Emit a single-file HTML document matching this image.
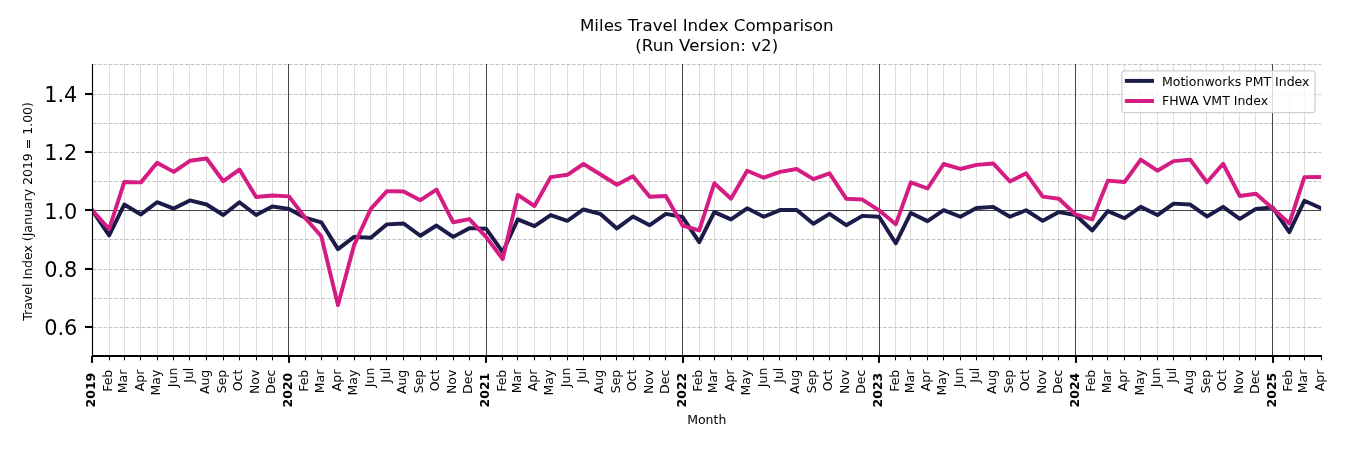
<!DOCTYPE html>
<html lang="en"><head><meta charset="utf-8"><title>Miles Travel Index Comparison</title>
<style>html,body{margin:0;padding:0;background:#fff;overflow:hidden}svg{display:block;will-change:transform}text{font-family:"DejaVu Sans","Liberation Sans",sans-serif;fill:#000}</style></head><body>
<svg width="1350" height="450" viewBox="0 0 1350 450">
<rect width="1350" height="450" fill="#fff"/>
<g stroke="#dedede" stroke-width="1" fill="none">
<line x1="109.50" y1="64.00" x2="109.50" y2="356.00"/>
<line x1="124.50" y1="64.00" x2="124.50" y2="356.00"/>
<line x1="140.50" y1="64.00" x2="140.50" y2="356.00"/>
<line x1="157.50" y1="64.00" x2="157.50" y2="356.00"/>
<line x1="173.50" y1="64.00" x2="173.50" y2="356.00"/>
<line x1="189.50" y1="64.00" x2="189.50" y2="356.00"/>
<line x1="206.50" y1="64.00" x2="206.50" y2="356.00"/>
<line x1="223.50" y1="64.00" x2="223.50" y2="356.00"/>
<line x1="239.50" y1="64.00" x2="239.50" y2="356.00"/>
<line x1="256.50" y1="64.00" x2="256.50" y2="356.00"/>
<line x1="272.50" y1="64.00" x2="272.50" y2="356.00"/>
<line x1="305.50" y1="64.00" x2="305.50" y2="356.00"/>
<line x1="321.50" y1="64.00" x2="321.50" y2="356.00"/>
<line x1="337.50" y1="64.00" x2="337.50" y2="356.00"/>
<line x1="354.50" y1="64.00" x2="354.50" y2="356.00"/>
<line x1="370.50" y1="64.00" x2="370.50" y2="356.00"/>
<line x1="386.50" y1="64.00" x2="386.50" y2="356.00"/>
<line x1="403.50" y1="64.00" x2="403.50" y2="356.00"/>
<line x1="420.50" y1="64.00" x2="420.50" y2="356.00"/>
<line x1="436.50" y1="64.00" x2="436.50" y2="356.00"/>
<line x1="453.50" y1="64.00" x2="453.50" y2="356.00"/>
<line x1="469.50" y1="64.00" x2="469.50" y2="356.00"/>
<line x1="502.50" y1="64.00" x2="502.50" y2="356.00"/>
<line x1="517.50" y1="64.00" x2="517.50" y2="356.00"/>
<line x1="534.50" y1="64.00" x2="534.50" y2="356.00"/>
<line x1="550.50" y1="64.00" x2="550.50" y2="356.00"/>
<line x1="567.50" y1="64.00" x2="567.50" y2="356.00"/>
<line x1="583.50" y1="64.00" x2="583.50" y2="356.00"/>
<line x1="600.50" y1="64.00" x2="600.50" y2="356.00"/>
<line x1="616.50" y1="64.00" x2="616.50" y2="356.00"/>
<line x1="633.50" y1="64.00" x2="633.50" y2="356.00"/>
<line x1="649.50" y1="64.00" x2="649.50" y2="356.00"/>
<line x1="665.50" y1="64.00" x2="665.50" y2="356.00"/>
<line x1="699.50" y1="64.00" x2="699.50" y2="356.00"/>
<line x1="714.50" y1="64.00" x2="714.50" y2="356.00"/>
<line x1="731.50" y1="64.00" x2="731.50" y2="356.00"/>
<line x1="747.50" y1="64.00" x2="747.50" y2="356.00"/>
<line x1="763.50" y1="64.00" x2="763.50" y2="356.00"/>
<line x1="779.50" y1="64.00" x2="779.50" y2="356.00"/>
<line x1="796.50" y1="64.00" x2="796.50" y2="356.00"/>
<line x1="813.50" y1="64.00" x2="813.50" y2="356.00"/>
<line x1="829.50" y1="64.00" x2="829.50" y2="356.00"/>
<line x1="846.50" y1="64.00" x2="846.50" y2="356.00"/>
<line x1="862.50" y1="64.00" x2="862.50" y2="356.00"/>
<line x1="895.50" y1="64.00" x2="895.50" y2="356.00"/>
<line x1="910.50" y1="64.00" x2="910.50" y2="356.00"/>
<line x1="927.50" y1="64.00" x2="927.50" y2="356.00"/>
<line x1="943.50" y1="64.00" x2="943.50" y2="356.00"/>
<line x1="960.50" y1="64.00" x2="960.50" y2="356.00"/>
<line x1="976.50" y1="64.00" x2="976.50" y2="356.00"/>
<line x1="993.50" y1="64.00" x2="993.50" y2="356.00"/>
<line x1="1009.50" y1="64.00" x2="1009.50" y2="356.00"/>
<line x1="1026.50" y1="64.00" x2="1026.50" y2="356.00"/>
<line x1="1042.50" y1="64.00" x2="1042.50" y2="356.00"/>
<line x1="1058.50" y1="64.00" x2="1058.50" y2="356.00"/>
<line x1="1092.50" y1="64.00" x2="1092.50" y2="356.00"/>
<line x1="1107.50" y1="64.00" x2="1107.50" y2="356.00"/>
<line x1="1124.50" y1="64.00" x2="1124.50" y2="356.00"/>
<line x1="1140.50" y1="64.00" x2="1140.50" y2="356.00"/>
<line x1="1157.50" y1="64.00" x2="1157.50" y2="356.00"/>
<line x1="1173.50" y1="64.00" x2="1173.50" y2="356.00"/>
<line x1="1190.50" y1="64.00" x2="1190.50" y2="356.00"/>
<line x1="1206.50" y1="64.00" x2="1206.50" y2="356.00"/>
<line x1="1223.50" y1="64.00" x2="1223.50" y2="356.00"/>
<line x1="1239.50" y1="64.00" x2="1239.50" y2="356.00"/>
<line x1="1255.50" y1="64.00" x2="1255.50" y2="356.00"/>
<line x1="1289.50" y1="64.00" x2="1289.50" y2="356.00"/>
<line x1="1304.50" y1="64.00" x2="1304.50" y2="356.00"/>
</g>
<g stroke="#b9b9b9" stroke-width="0.85" stroke-dasharray="3.85 1.6" fill="none">
<line x1="92.46" y1="327.50" x2="1321.09" y2="327.50"/>
<line x1="92.46" y1="298.50" x2="1321.09" y2="298.50"/>
<line x1="92.46" y1="269.50" x2="1321.09" y2="269.50"/>
<line x1="92.46" y1="239.50" x2="1321.09" y2="239.50"/>
<line x1="92.46" y1="210.50" x2="1321.09" y2="210.50"/>
<line x1="92.46" y1="181.50" x2="1321.09" y2="181.50"/>
<line x1="92.46" y1="152.50" x2="1321.09" y2="152.50"/>
<line x1="92.46" y1="123.50" x2="1321.09" y2="123.50"/>
<line x1="92.46" y1="94.50" x2="1321.09" y2="94.50"/>
<line x1="92.46" y1="64.50" x2="1321.09" y2="64.50"/>
</g>
<g stroke="#444" stroke-width="1" fill="none">
<line x1="288.50" y1="64.00" x2="288.50" y2="356.00"/>
<line x1="486.50" y1="64.00" x2="486.50" y2="356.00"/>
<line x1="682.50" y1="64.00" x2="682.50" y2="356.00"/>
<line x1="879.50" y1="64.00" x2="879.50" y2="356.00"/>
<line x1="1075.50" y1="64.00" x2="1075.50" y2="356.00"/>
<line x1="1272.50" y1="64.00" x2="1272.50" y2="356.00"/>
</g>
<line x1="92.46" y1="210.5" x2="1321.09" y2="210.5" stroke="#444" stroke-width="1"/>
<clipPath id="c"><rect x="92.46" y="64.9" width="1228.63" height="291.5"/></clipPath>
<polyline clip-path="url(#c)" points="92.46,210.65 109.15,235.43 124.23,204.53 140.92,214.44 157.07,202.20 173.76,208.61 189.91,200.45 206.60,204.53 223.29,215.02 239.44,202.20 256.13,215.02 272.29,206.57 288.98,208.90 305.67,217.94 321.28,222.31 337.97,249.13 354.12,236.88 370.81,237.76 386.96,224.35 403.66,223.48 420.35,235.72 436.50,225.52 453.19,236.88 469.34,228.14 486.03,228.72 502.72,252.04 517.80,219.40 534.49,226.10 550.64,215.02 567.33,220.85 583.48,209.48 600.17,213.86 616.86,228.43 633.01,216.48 649.70,225.23 665.86,213.86 682.55,217.06 699.24,242.13 714.31,212.11 731.00,219.40 747.15,208.32 763.84,216.77 780.00,210.07 796.69,210.07 813.38,223.77 829.53,213.86 846.22,225.23 862.37,215.90 879.06,216.77 895.75,243.30 910.83,212.98 927.52,221.14 943.67,210.21 960.36,216.77 976.51,208.03 993.20,206.86 1009.89,216.77 1026.05,210.21 1042.74,220.85 1058.89,212.11 1075.58,215.02 1092.27,230.47 1107.88,211.09 1124.57,218.23 1140.72,206.86 1157.42,215.02 1173.57,203.65 1190.26,204.53 1206.95,216.48 1223.10,206.86 1239.79,218.81 1255.94,208.90 1272.63,207.44 1289.32,232.22 1304.40,200.74 1321.09,208.14" fill="none" stroke="#1b1b4a" stroke-width="3.95" stroke-linejoin="round" stroke-linecap="square"/>
<polyline clip-path="url(#c)" points="92.46,210.65 109.15,229.01 124.23,182.08 140.92,182.37 157.07,162.84 173.76,171.88 189.91,160.80 206.60,158.47 223.29,181.21 239.44,169.55 256.13,196.95 272.29,195.49 288.98,196.37 305.67,218.52 321.28,236.30 337.97,305.10 354.12,245.05 370.81,208.90 386.96,191.12 403.66,191.41 420.35,200.16 436.50,189.66 453.19,222.31 469.34,219.10 486.03,236.88 502.72,259.04 517.80,194.91 534.49,205.99 550.64,177.13 567.33,174.80 583.48,164.01 600.17,174.21 616.86,184.71 633.01,176.25 649.70,196.66 665.86,196.07 682.55,225.52 699.24,230.47 714.31,183.25 731.00,198.70 747.15,170.71 763.84,177.71 780.00,171.88 796.69,168.97 813.38,179.17 829.53,173.34 846.22,198.70 862.37,199.57 879.06,210.36 895.75,224.35 910.83,182.37 927.52,188.50 943.67,164.01 960.36,168.97 976.51,164.88 993.20,163.43 1009.89,181.50 1026.05,173.34 1042.74,196.66 1058.89,198.70 1075.58,214.44 1092.27,219.40 1107.88,180.63 1124.57,182.08 1140.72,159.64 1157.42,170.71 1173.57,161.10 1190.26,159.64 1206.95,182.23 1223.10,163.72 1239.79,196.07 1255.94,193.74 1272.63,208.32 1289.32,223.48 1304.40,177.13 1321.09,176.98" fill="none" stroke="#d41c82" stroke-width="3.95" stroke-linejoin="round" stroke-linecap="square"/>
<line x1="92.5" y1="64" x2="92.5" y2="357.00" stroke="#000" stroke-width="1.15"/>
<line x1="91.9" y1="356.00" x2="1322" y2="356.00" stroke="#000" stroke-width="2"/>
<line x1="85.0" y1="327.00" x2="92.3" y2="327.00" stroke="#000" stroke-width="2.08"/>
<text x="77.3" y="335.25" font-size="20.83" text-anchor="end">0.6</text>
<line x1="85.0" y1="269.00" x2="92.3" y2="269.00" stroke="#000" stroke-width="2.08"/>
<text x="77.3" y="276.95" font-size="20.83" text-anchor="end">0.8</text>
<line x1="85.0" y1="210.00" x2="92.3" y2="210.00" stroke="#000" stroke-width="2.08"/>
<text x="77.3" y="218.65" font-size="20.83" text-anchor="end">1.0</text>
<line x1="85.0" y1="152.00" x2="92.3" y2="152.00" stroke="#000" stroke-width="2.08"/>
<text x="77.3" y="160.35" font-size="20.83" text-anchor="end">1.2</text>
<line x1="85.0" y1="94.00" x2="92.3" y2="94.00" stroke="#000" stroke-width="2.08"/>
<text x="77.3" y="102.05" font-size="20.83" text-anchor="end">1.4</text>
<line x1="92.00" y1="356.00" x2="92.00" y2="362.90" stroke="#000" stroke-width="2.08"/>
<text transform="translate(95.46,372.7) rotate(-90)" font-size="12.5" font-weight="bold" text-anchor="end">2019</text>
<line x1="109.50" y1="356.00" x2="109.50" y2="360.30" stroke="#000" stroke-width="1.1"/>
<text transform="translate(111.95,369.7) rotate(-90)" font-size="12.5" text-anchor="end">Feb</text>
<line x1="124.50" y1="356.00" x2="124.50" y2="360.30" stroke="#000" stroke-width="1.1"/>
<text transform="translate(127.03,369.7) rotate(-90)" font-size="12.5" text-anchor="end">Mar</text>
<line x1="140.50" y1="356.00" x2="140.50" y2="360.30" stroke="#000" stroke-width="1.1"/>
<text transform="translate(143.72,369.7) rotate(-90)" font-size="12.5" text-anchor="end">Apr</text>
<line x1="157.50" y1="356.00" x2="157.50" y2="360.30" stroke="#000" stroke-width="1.1"/>
<text transform="translate(159.87,369.7) rotate(-90)" font-size="12.5" text-anchor="end">May</text>
<line x1="173.50" y1="356.00" x2="173.50" y2="360.30" stroke="#000" stroke-width="1.1"/>
<text transform="translate(176.56,367.7) rotate(-90)" font-size="12.5" text-anchor="end">Jun</text>
<line x1="189.50" y1="356.00" x2="189.50" y2="360.30" stroke="#000" stroke-width="1.1"/>
<text transform="translate(192.71,367.7) rotate(-90)" font-size="12.5" text-anchor="end">Jul</text>
<line x1="206.50" y1="356.00" x2="206.50" y2="360.30" stroke="#000" stroke-width="1.1"/>
<text transform="translate(209.40,369.7) rotate(-90)" font-size="12.5" text-anchor="end">Aug</text>
<line x1="223.50" y1="356.00" x2="223.50" y2="360.30" stroke="#000" stroke-width="1.1"/>
<text transform="translate(226.09,369.7) rotate(-90)" font-size="12.5" text-anchor="end">Sep</text>
<line x1="239.50" y1="356.00" x2="239.50" y2="360.30" stroke="#000" stroke-width="1.1"/>
<text transform="translate(242.24,369.7) rotate(-90)" font-size="12.5" text-anchor="end">Oct</text>
<line x1="256.50" y1="356.00" x2="256.50" y2="360.30" stroke="#000" stroke-width="1.1"/>
<text transform="translate(258.93,369.7) rotate(-90)" font-size="12.5" text-anchor="end">Nov</text>
<line x1="272.50" y1="356.00" x2="272.50" y2="360.30" stroke="#000" stroke-width="1.1"/>
<text transform="translate(275.09,369.7) rotate(-90)" font-size="12.5" text-anchor="end">Dec</text>
<line x1="289.00" y1="356.00" x2="289.00" y2="362.90" stroke="#000" stroke-width="2.08"/>
<text transform="translate(291.98,372.7) rotate(-90)" font-size="12.5" font-weight="bold" text-anchor="end">2020</text>
<line x1="305.50" y1="356.00" x2="305.50" y2="360.30" stroke="#000" stroke-width="1.1"/>
<text transform="translate(308.47,369.7) rotate(-90)" font-size="12.5" text-anchor="end">Feb</text>
<line x1="321.50" y1="356.00" x2="321.50" y2="360.30" stroke="#000" stroke-width="1.1"/>
<text transform="translate(324.08,369.7) rotate(-90)" font-size="12.5" text-anchor="end">Mar</text>
<line x1="337.50" y1="356.00" x2="337.50" y2="360.30" stroke="#000" stroke-width="1.1"/>
<text transform="translate(340.77,369.7) rotate(-90)" font-size="12.5" text-anchor="end">Apr</text>
<line x1="354.50" y1="356.00" x2="354.50" y2="360.30" stroke="#000" stroke-width="1.1"/>
<text transform="translate(356.92,369.7) rotate(-90)" font-size="12.5" text-anchor="end">May</text>
<line x1="370.50" y1="356.00" x2="370.50" y2="360.30" stroke="#000" stroke-width="1.1"/>
<text transform="translate(373.61,367.7) rotate(-90)" font-size="12.5" text-anchor="end">Jun</text>
<line x1="386.50" y1="356.00" x2="386.50" y2="360.30" stroke="#000" stroke-width="1.1"/>
<text transform="translate(389.76,367.7) rotate(-90)" font-size="12.5" text-anchor="end">Jul</text>
<line x1="403.50" y1="356.00" x2="403.50" y2="360.30" stroke="#000" stroke-width="1.1"/>
<text transform="translate(406.46,369.7) rotate(-90)" font-size="12.5" text-anchor="end">Aug</text>
<line x1="420.50" y1="356.00" x2="420.50" y2="360.30" stroke="#000" stroke-width="1.1"/>
<text transform="translate(423.15,369.7) rotate(-90)" font-size="12.5" text-anchor="end">Sep</text>
<line x1="436.50" y1="356.00" x2="436.50" y2="360.30" stroke="#000" stroke-width="1.1"/>
<text transform="translate(439.30,369.7) rotate(-90)" font-size="12.5" text-anchor="end">Oct</text>
<line x1="453.50" y1="356.00" x2="453.50" y2="360.30" stroke="#000" stroke-width="1.1"/>
<text transform="translate(455.99,369.7) rotate(-90)" font-size="12.5" text-anchor="end">Nov</text>
<line x1="469.50" y1="356.00" x2="469.50" y2="360.30" stroke="#000" stroke-width="1.1"/>
<text transform="translate(472.14,369.7) rotate(-90)" font-size="12.5" text-anchor="end">Dec</text>
<line x1="486.00" y1="356.00" x2="486.00" y2="362.90" stroke="#000" stroke-width="2.08"/>
<text transform="translate(489.03,372.7) rotate(-90)" font-size="12.5" font-weight="bold" text-anchor="end">2021</text>
<line x1="502.50" y1="356.00" x2="502.50" y2="360.30" stroke="#000" stroke-width="1.1"/>
<text transform="translate(505.52,369.7) rotate(-90)" font-size="12.5" text-anchor="end">Feb</text>
<line x1="517.50" y1="356.00" x2="517.50" y2="360.30" stroke="#000" stroke-width="1.1"/>
<text transform="translate(520.60,369.7) rotate(-90)" font-size="12.5" text-anchor="end">Mar</text>
<line x1="534.50" y1="356.00" x2="534.50" y2="360.30" stroke="#000" stroke-width="1.1"/>
<text transform="translate(537.29,369.7) rotate(-90)" font-size="12.5" text-anchor="end">Apr</text>
<line x1="550.50" y1="356.00" x2="550.50" y2="360.30" stroke="#000" stroke-width="1.1"/>
<text transform="translate(553.44,369.7) rotate(-90)" font-size="12.5" text-anchor="end">May</text>
<line x1="567.50" y1="356.00" x2="567.50" y2="360.30" stroke="#000" stroke-width="1.1"/>
<text transform="translate(570.13,367.7) rotate(-90)" font-size="12.5" text-anchor="end">Jun</text>
<line x1="583.50" y1="356.00" x2="583.50" y2="360.30" stroke="#000" stroke-width="1.1"/>
<text transform="translate(586.28,367.7) rotate(-90)" font-size="12.5" text-anchor="end">Jul</text>
<line x1="600.50" y1="356.00" x2="600.50" y2="360.30" stroke="#000" stroke-width="1.1"/>
<text transform="translate(602.97,369.7) rotate(-90)" font-size="12.5" text-anchor="end">Aug</text>
<line x1="616.50" y1="356.00" x2="616.50" y2="360.30" stroke="#000" stroke-width="1.1"/>
<text transform="translate(619.66,369.7) rotate(-90)" font-size="12.5" text-anchor="end">Sep</text>
<line x1="633.50" y1="356.00" x2="633.50" y2="360.30" stroke="#000" stroke-width="1.1"/>
<text transform="translate(635.81,369.7) rotate(-90)" font-size="12.5" text-anchor="end">Oct</text>
<line x1="649.50" y1="356.00" x2="649.50" y2="360.30" stroke="#000" stroke-width="1.1"/>
<text transform="translate(652.50,369.7) rotate(-90)" font-size="12.5" text-anchor="end">Nov</text>
<line x1="665.50" y1="356.00" x2="665.50" y2="360.30" stroke="#000" stroke-width="1.1"/>
<text transform="translate(668.66,369.7) rotate(-90)" font-size="12.5" text-anchor="end">Dec</text>
<line x1="683.00" y1="356.00" x2="683.00" y2="362.90" stroke="#000" stroke-width="2.08"/>
<text transform="translate(685.55,372.7) rotate(-90)" font-size="12.5" font-weight="bold" text-anchor="end">2022</text>
<line x1="699.50" y1="356.00" x2="699.50" y2="360.30" stroke="#000" stroke-width="1.1"/>
<text transform="translate(702.04,369.7) rotate(-90)" font-size="12.5" text-anchor="end">Feb</text>
<line x1="714.50" y1="356.00" x2="714.50" y2="360.30" stroke="#000" stroke-width="1.1"/>
<text transform="translate(717.11,369.7) rotate(-90)" font-size="12.5" text-anchor="end">Mar</text>
<line x1="731.50" y1="356.00" x2="731.50" y2="360.30" stroke="#000" stroke-width="1.1"/>
<text transform="translate(733.80,369.7) rotate(-90)" font-size="12.5" text-anchor="end">Apr</text>
<line x1="747.50" y1="356.00" x2="747.50" y2="360.30" stroke="#000" stroke-width="1.1"/>
<text transform="translate(749.95,369.7) rotate(-90)" font-size="12.5" text-anchor="end">May</text>
<line x1="763.50" y1="356.00" x2="763.50" y2="360.30" stroke="#000" stroke-width="1.1"/>
<text transform="translate(766.64,367.7) rotate(-90)" font-size="12.5" text-anchor="end">Jun</text>
<line x1="779.50" y1="356.00" x2="779.50" y2="360.30" stroke="#000" stroke-width="1.1"/>
<text transform="translate(782.80,367.7) rotate(-90)" font-size="12.5" text-anchor="end">Jul</text>
<line x1="796.50" y1="356.00" x2="796.50" y2="360.30" stroke="#000" stroke-width="1.1"/>
<text transform="translate(799.49,369.7) rotate(-90)" font-size="12.5" text-anchor="end">Aug</text>
<line x1="813.50" y1="356.00" x2="813.50" y2="360.30" stroke="#000" stroke-width="1.1"/>
<text transform="translate(816.18,369.7) rotate(-90)" font-size="12.5" text-anchor="end">Sep</text>
<line x1="829.50" y1="356.00" x2="829.50" y2="360.30" stroke="#000" stroke-width="1.1"/>
<text transform="translate(832.33,369.7) rotate(-90)" font-size="12.5" text-anchor="end">Oct</text>
<line x1="846.50" y1="356.00" x2="846.50" y2="360.30" stroke="#000" stroke-width="1.1"/>
<text transform="translate(849.02,369.7) rotate(-90)" font-size="12.5" text-anchor="end">Nov</text>
<line x1="862.50" y1="356.00" x2="862.50" y2="360.30" stroke="#000" stroke-width="1.1"/>
<text transform="translate(865.17,369.7) rotate(-90)" font-size="12.5" text-anchor="end">Dec</text>
<line x1="879.00" y1="356.00" x2="879.00" y2="362.90" stroke="#000" stroke-width="2.08"/>
<text transform="translate(882.06,372.7) rotate(-90)" font-size="12.5" font-weight="bold" text-anchor="end">2023</text>
<line x1="895.50" y1="356.00" x2="895.50" y2="360.30" stroke="#000" stroke-width="1.1"/>
<text transform="translate(898.55,369.7) rotate(-90)" font-size="12.5" text-anchor="end">Feb</text>
<line x1="910.50" y1="356.00" x2="910.50" y2="360.30" stroke="#000" stroke-width="1.1"/>
<text transform="translate(913.63,369.7) rotate(-90)" font-size="12.5" text-anchor="end">Mar</text>
<line x1="927.50" y1="356.00" x2="927.50" y2="360.30" stroke="#000" stroke-width="1.1"/>
<text transform="translate(930.32,369.7) rotate(-90)" font-size="12.5" text-anchor="end">Apr</text>
<line x1="943.50" y1="356.00" x2="943.50" y2="360.30" stroke="#000" stroke-width="1.1"/>
<text transform="translate(946.47,369.7) rotate(-90)" font-size="12.5" text-anchor="end">May</text>
<line x1="960.50" y1="356.00" x2="960.50" y2="360.30" stroke="#000" stroke-width="1.1"/>
<text transform="translate(963.16,367.7) rotate(-90)" font-size="12.5" text-anchor="end">Jun</text>
<line x1="976.50" y1="356.00" x2="976.50" y2="360.30" stroke="#000" stroke-width="1.1"/>
<text transform="translate(979.31,367.7) rotate(-90)" font-size="12.5" text-anchor="end">Jul</text>
<line x1="993.50" y1="356.00" x2="993.50" y2="360.30" stroke="#000" stroke-width="1.1"/>
<text transform="translate(996.00,369.7) rotate(-90)" font-size="12.5" text-anchor="end">Aug</text>
<line x1="1009.50" y1="356.00" x2="1009.50" y2="360.30" stroke="#000" stroke-width="1.1"/>
<text transform="translate(1012.69,369.7) rotate(-90)" font-size="12.5" text-anchor="end">Sep</text>
<line x1="1026.50" y1="356.00" x2="1026.50" y2="360.30" stroke="#000" stroke-width="1.1"/>
<text transform="translate(1028.85,369.7) rotate(-90)" font-size="12.5" text-anchor="end">Oct</text>
<line x1="1042.50" y1="356.00" x2="1042.50" y2="360.30" stroke="#000" stroke-width="1.1"/>
<text transform="translate(1045.54,369.7) rotate(-90)" font-size="12.5" text-anchor="end">Nov</text>
<line x1="1058.50" y1="356.00" x2="1058.50" y2="360.30" stroke="#000" stroke-width="1.1"/>
<text transform="translate(1061.69,369.7) rotate(-90)" font-size="12.5" text-anchor="end">Dec</text>
<line x1="1076.00" y1="356.00" x2="1076.00" y2="362.90" stroke="#000" stroke-width="2.08"/>
<text transform="translate(1078.58,372.7) rotate(-90)" font-size="12.5" font-weight="bold" text-anchor="end">2024</text>
<line x1="1092.50" y1="356.00" x2="1092.50" y2="360.30" stroke="#000" stroke-width="1.1"/>
<text transform="translate(1095.07,369.7) rotate(-90)" font-size="12.5" text-anchor="end">Feb</text>
<line x1="1107.50" y1="356.00" x2="1107.50" y2="360.30" stroke="#000" stroke-width="1.1"/>
<text transform="translate(1110.68,369.7) rotate(-90)" font-size="12.5" text-anchor="end">Mar</text>
<line x1="1124.50" y1="356.00" x2="1124.50" y2="360.30" stroke="#000" stroke-width="1.1"/>
<text transform="translate(1127.37,369.7) rotate(-90)" font-size="12.5" text-anchor="end">Apr</text>
<line x1="1140.50" y1="356.00" x2="1140.50" y2="360.30" stroke="#000" stroke-width="1.1"/>
<text transform="translate(1143.52,369.7) rotate(-90)" font-size="12.5" text-anchor="end">May</text>
<line x1="1157.50" y1="356.00" x2="1157.50" y2="360.30" stroke="#000" stroke-width="1.1"/>
<text transform="translate(1160.22,367.7) rotate(-90)" font-size="12.5" text-anchor="end">Jun</text>
<line x1="1173.50" y1="356.00" x2="1173.50" y2="360.30" stroke="#000" stroke-width="1.1"/>
<text transform="translate(1176.37,367.7) rotate(-90)" font-size="12.5" text-anchor="end">Jul</text>
<line x1="1190.50" y1="356.00" x2="1190.50" y2="360.30" stroke="#000" stroke-width="1.1"/>
<text transform="translate(1193.06,369.7) rotate(-90)" font-size="12.5" text-anchor="end">Aug</text>
<line x1="1206.50" y1="356.00" x2="1206.50" y2="360.30" stroke="#000" stroke-width="1.1"/>
<text transform="translate(1209.75,369.7) rotate(-90)" font-size="12.5" text-anchor="end">Sep</text>
<line x1="1223.50" y1="356.00" x2="1223.50" y2="360.30" stroke="#000" stroke-width="1.1"/>
<text transform="translate(1225.90,369.7) rotate(-90)" font-size="12.5" text-anchor="end">Oct</text>
<line x1="1239.50" y1="356.00" x2="1239.50" y2="360.30" stroke="#000" stroke-width="1.1"/>
<text transform="translate(1242.59,369.7) rotate(-90)" font-size="12.5" text-anchor="end">Nov</text>
<line x1="1255.50" y1="356.00" x2="1255.50" y2="360.30" stroke="#000" stroke-width="1.1"/>
<text transform="translate(1258.74,369.7) rotate(-90)" font-size="12.5" text-anchor="end">Dec</text>
<line x1="1273.00" y1="356.00" x2="1273.00" y2="362.90" stroke="#000" stroke-width="2.08"/>
<text transform="translate(1275.63,372.7) rotate(-90)" font-size="12.5" font-weight="bold" text-anchor="end">2025</text>
<line x1="1289.50" y1="356.00" x2="1289.50" y2="360.30" stroke="#000" stroke-width="1.1"/>
<text transform="translate(1292.12,369.7) rotate(-90)" font-size="12.5" text-anchor="end">Feb</text>
<line x1="1304.50" y1="356.00" x2="1304.50" y2="360.30" stroke="#000" stroke-width="1.1"/>
<text transform="translate(1307.20,369.7) rotate(-90)" font-size="12.5" text-anchor="end">Mar</text>
<line x1="1321.50" y1="356.00" x2="1321.50" y2="360.30" stroke="#000" stroke-width="1.1"/>
<text transform="translate(1323.89,369.7) rotate(-90)" font-size="12.5" text-anchor="end">Apr</text>
<text x="706.77" y="30.6" font-size="16.67" text-anchor="middle">Miles Travel Index Comparison</text>
<text x="706.77" y="51.0" font-size="16.67" text-anchor="middle">(Run Version: v2)</text>
<text x="706.77" y="424" font-size="12.5" text-anchor="middle">Month</text>
<text transform="translate(32.0,211.4) rotate(-90)" font-size="12.5" text-anchor="middle">Travel Index (January 2019 = 1.00)</text>
<rect x="1121.9" y="70.9" width="193.1" height="41.8" rx="2.6" ry="2.6" fill="#fff" fill-opacity="0.8" stroke="#cdcdcd" stroke-opacity="0.9" stroke-width="1.3"/>
<line x1="1126.9" y1="80.9" x2="1152.0" y2="80.9" stroke="#1b1b4a" stroke-width="3.95" stroke-linecap="square"/>
<line x1="1126.9" y1="101.0" x2="1152.0" y2="101.0" stroke="#d41c82" stroke-width="3.95" stroke-linecap="square"/>
<text x="1162.0" y="85.6" font-size="12.5">Motionworks PMT Index</text>
<text x="1162.0" y="105.0" font-size="12.5">FHWA VMT Index</text>
</svg></body></html>
